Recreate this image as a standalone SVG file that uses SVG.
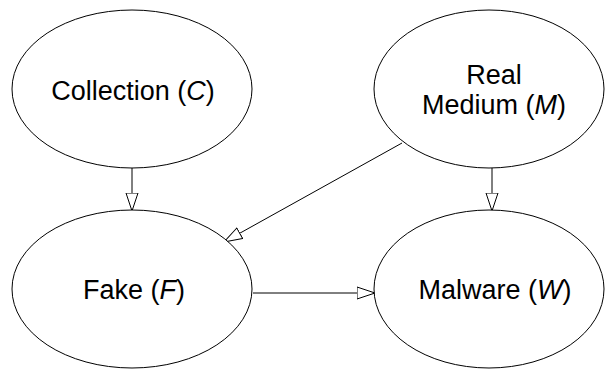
<svg xmlns="http://www.w3.org/2000/svg" width="606" height="372" viewBox="0 0 606 372">
<defs>
<style>
.node ellipse{fill:#fff;stroke:#000;stroke-width:1}
.node text{font-family:"Liberation Sans",Arial,sans-serif;font-size:27px;fill:#000;text-anchor:middle}
.it{font-style:italic}
.edge{stroke:#000;stroke-width:1;fill:none;marker-end:url(#arr)}
</style>
<marker id="arr" markerUnits="userSpaceOnUse" markerWidth="20" markerHeight="14" viewBox="0 0 20 14" refX="18.5" refY="7" orient="auto">
<path d="M0.5,1 L18.5,7 L0.5,13 Z" fill="#fff" stroke="#000" stroke-width="1"/>
</marker>
</defs>
<g id="edges">
<line class="edge" x1="132" y1="168" x2="132" y2="211"/>
<line class="edge" x1="492" y1="168" x2="492" y2="211"/>
<line class="edge" x1="402" y1="143" x2="224" y2="242"/>
<line class="edge" x1="253" y1="293" x2="375" y2="293"/>
</g>
<g id="C" class="node">
<ellipse cx="132" cy="89" rx="120" ry="79"/>
<text x="133" y="100">Collection (<tspan class="it">C</tspan>)</text>
</g>
<g id="M" class="node">
<ellipse cx="489" cy="89" rx="115" ry="79"/>
<text x="494" y="84">Real</text>
<text x="494" y="114">Medium (<tspan class="it">M</tspan>)</text>
</g>
<g id="F" class="node">
<ellipse cx="132" cy="289" rx="120" ry="79"/>
<text x="134" y="299">Fake (<tspan class="it">F</tspan>)</text>
</g>
<g id="W" class="node">
<ellipse cx="489" cy="289" rx="115" ry="79"/>
<text x="495" y="299">Malware (<tspan class="it">W</tspan>)</text>
</g>
</svg>
